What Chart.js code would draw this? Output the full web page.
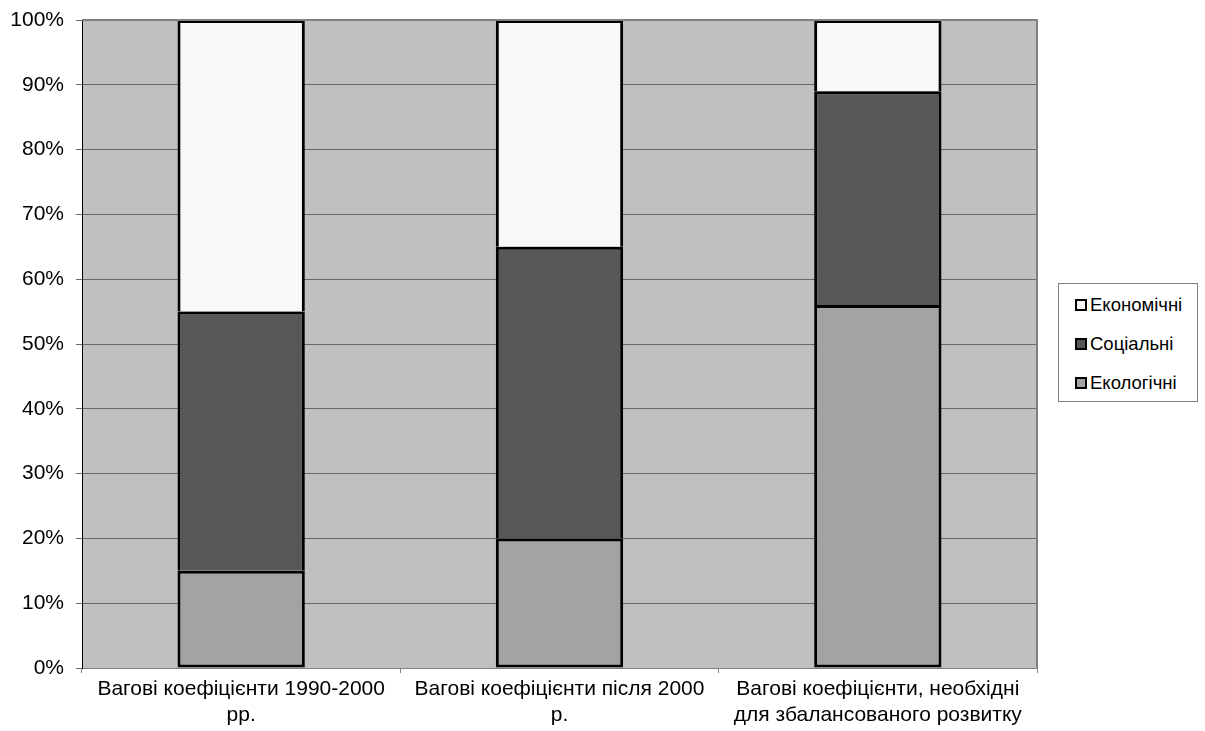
<!DOCTYPE html>
<html>
<head>
<meta charset="utf-8">
<script src="https://cdn.jsdelivr.net/npm/chart.js@4/dist/chart.umd.min.js"></script>
<style>
    html, body { margin: 0; padding: 0; background: #fff; }
    #wrap { position: relative; width: 1205px; height: 731px; }
    #legend {
        position: absolute; left: 1058px; top: 283px; width: 140px; height: 119px;
        border: 1px solid #808080; box-sizing: border-box; background: #fff;
        font-family: "Liberation Sans", Arial, sans-serif; font-size: 18.5px; color: #000;
    }
    .item { position: absolute; left: 16px; display: flex; align-items: center; }
    .box { width: 8px; height: 8px; border: 2px solid #000; margin-right: 3px; }
</style>
</head>
<body>
<div id="wrap">
    <canvas id="chart" width="1205" height="731"></canvas>
    <div id="legend"></div>
</div>
<script>
// --- Data ---
const categories = [
    ['Вагові коефіцієнти 1990-2000', 'рр.'],
    ['Вагові коефіцієнти після 2000', 'р.'],
    ['Вагові коефіцієнти, необхідні', 'для збалансованого розвитку']
];
const ecological = [15, 20, 56];
const social = [40, 45, 33];
const economic = [45, 35, 11];

const seriesNames = ['Екологічні', 'Соціальні', 'Економічні'];
const seriesColors = ['#a3a3a3', '#575757', '#f8f8f8'];

// plot area background + gray frame on top/right
const plotBg = {
    id: 'plotBg',
    beforeDraw(chart) {
        const { ctx, chartArea: a } = chart;
        ctx.save();
        ctx.fillStyle = '#c0c0c0';
        ctx.fillRect(a.left, a.top, a.right - a.left, a.bottom - a.top);
        ctx.restore();
    },
    afterDatasetsDraw(chart) {
        const { ctx, chartArea: a } = chart;
        ctx.save();
        ctx.strokeStyle = '#808080';
        ctx.lineWidth = 2;
        ctx.beginPath();
        ctx.moveTo(a.left, a.top);
        ctx.lineTo(a.right, a.top);
        ctx.lineTo(a.right, a.bottom);
        ctx.stroke();
        ctx.restore();
    }
};

const ctx = document.getElementById('chart').getContext('2d');
const barStyle = { borderColor: '#000', borderSkipped: false, barPercentage: 0.4, categoryPercentage: 1 };
const edgeAll = { top: 3, left: 3, right: 3, bottom: 3 };
const edgeNoBottom = { top: 3, left: 3, right: 3, bottom: 0 };

new Chart(ctx, {
    type: 'bar',
    data: {
        labels: categories,
        datasets: [
            { label: seriesNames[0], data: ecological, backgroundColor: seriesColors[0], borderWidth: edgeAll, ...barStyle },
            { label: seriesNames[1], data: social, backgroundColor: seriesColors[1], borderWidth: edgeNoBottom, ...barStyle },
            { label: seriesNames[2], data: economic, backgroundColor: seriesColors[2], borderWidth: edgeNoBottom, ...barStyle }
        ]
    },
    options: {
        responsive: false,
        animation: false,
        layout: { padding: { top: 20, right: 168, left: 0, bottom: 0 } },
        plugins: { legend: { display: false }, tooltip: { enabled: false } },
        scales: {
            x: {
                stacked: true,
                grid: { drawOnChartArea: false, color: '#808080', tickLength: 5, offset: true },
                border: { color: '#808080' },
                ticks: { color: '#000', font: { family: 'Liberation Sans', size: 21 }, maxRotation: 0, padding: 4 },
                afterFit(scale) { scale.height = 63; }
            },
            y: {
                stacked: true,
                min: 0, max: 100,
                grid: { color: '#686868', tickLength: 6 },
                border: { color: '#000' },
                ticks: { stepSize: 10, color: '#000', font: { family: 'Liberation Sans', size: 21, lineHeight: 0.3 }, padding: 12,
                    callback: v => v + '%' },
                afterFit(scale) { scale.width = 82; }
            }
        }
    },
    plugins: [plotBg]
});

// legend (reverse order, as in the original)
const legend = document.getElementById('legend');
[2, 1, 0].forEach((i, row) => {
    const d = document.createElement('div');
    d.className = 'item';
    d.style.top = (10 + row * 39) + 'px';
    d.innerHTML = `<span class="box" style="background:${seriesColors[i]}"></span>${seriesNames[i]}`;
    legend.appendChild(d);
});
</script>
</body>
</html>
